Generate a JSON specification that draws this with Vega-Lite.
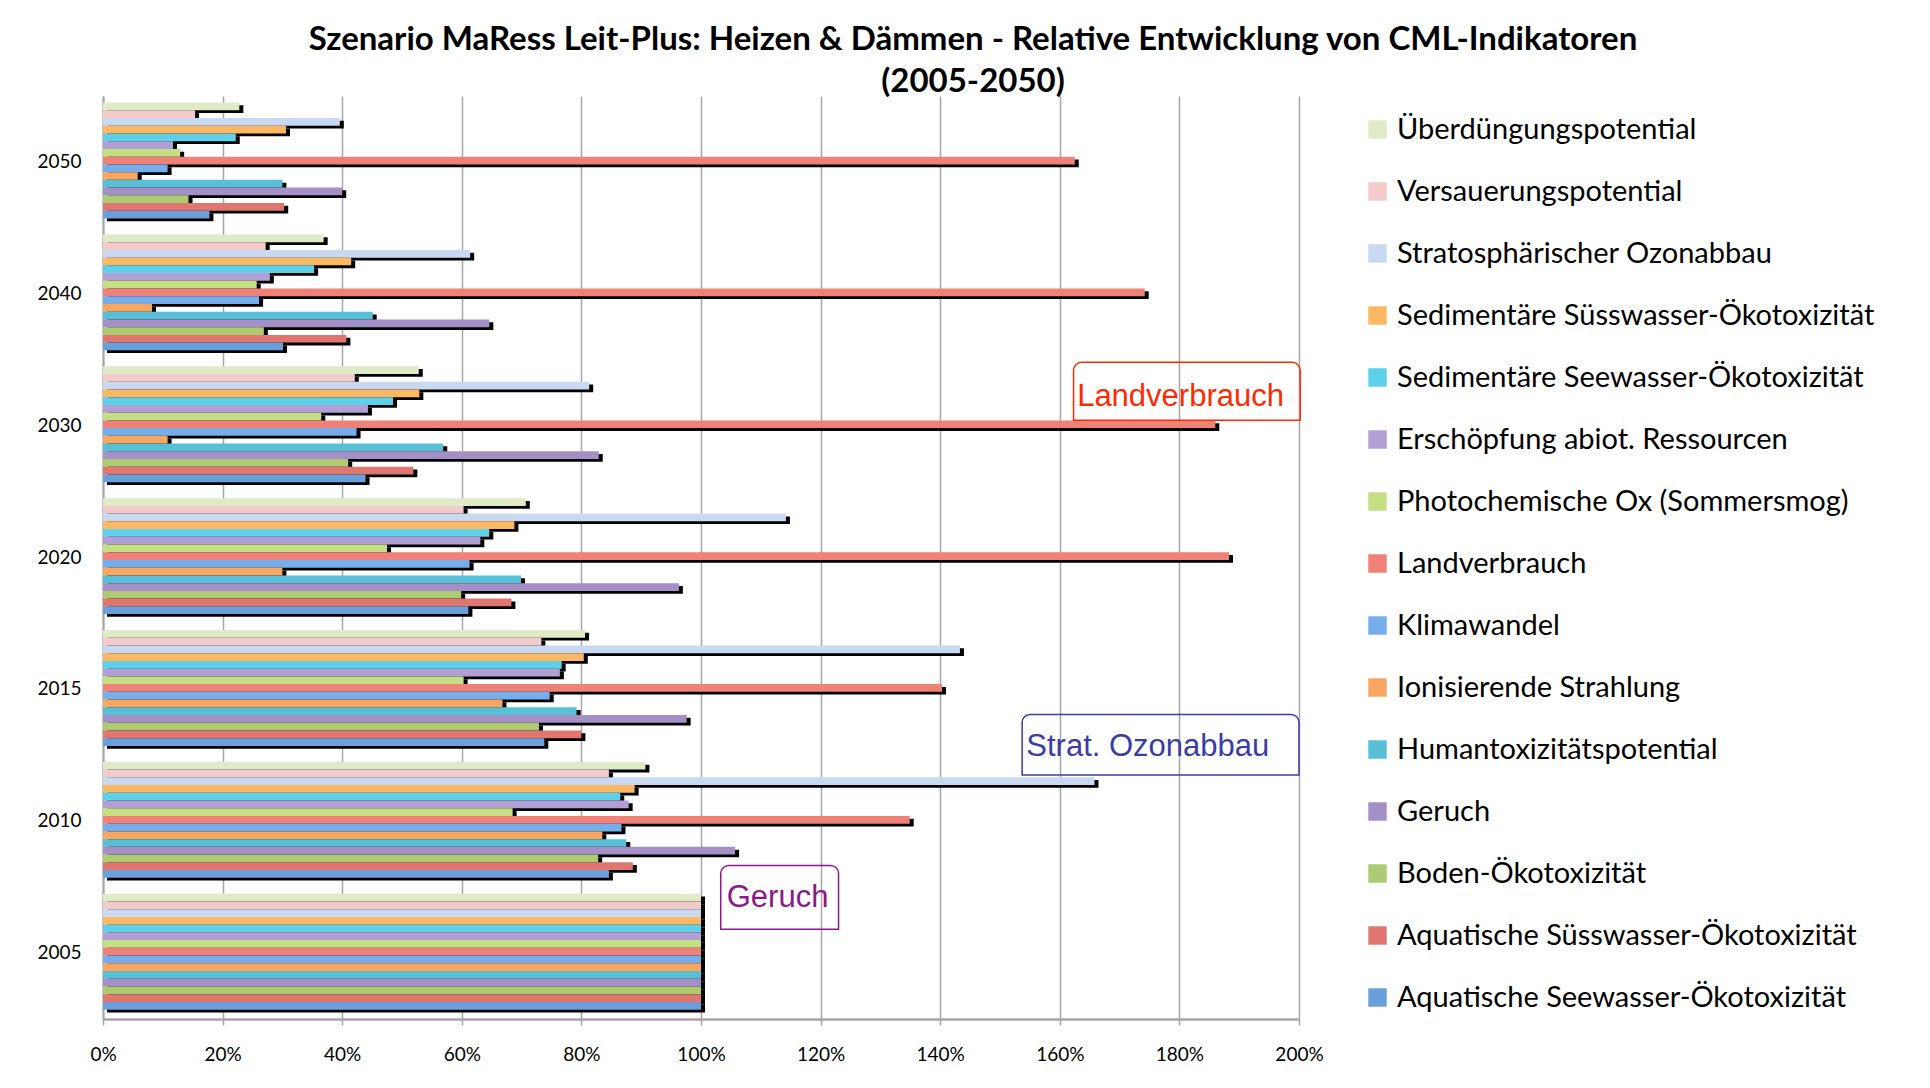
{
  "$schema": "https://vega.github.io/schema/vega-lite/v6.json",
  "width": 1196,
  "height": 923,
  "autosize": {"type": "none"},
  "padding": {"left": 103, "top": 96, "right": 631, "bottom": 69},
  "background": "white",
  "title": {
    "text": ["Szenario MaRess Leit-Plus: Heizen & Dämmen - Relative Entwicklung von CML-Indikatoren", "(2005-2050)"],
    "font": "Lato",
    "fontSize": 33,
    "fontWeight": "bold",
    "color": "black",
    "anchor": "middle",
    "frame": "group",
    "dx": 272,
    "offset": -3,
    "lineHeight": 42
  },
  "datasets": {
    "bars": [
      {"Jahr": "2050", "Indikator": "Überdüngungspotential", "Wert": 22.8},
      {"Jahr": "2050", "Indikator": "Versauerungspotential", "Wert": 15.4},
      {"Jahr": "2050", "Indikator": "Stratosphärischer Ozonabbau", "Wert": 39.6},
      {"Jahr": "2050", "Indikator": "Sedimentäre Süsswasser-Ökotoxizität", "Wert": 30.6},
      {"Jahr": "2050", "Indikator": "Sedimentäre Seewasser-Ökotoxizität", "Wert": 22.2},
      {"Jahr": "2050", "Indikator": "Erschöpfung abiot. Ressourcen", "Wert": 11.7},
      {"Jahr": "2050", "Indikator": "Photochemische Ox (Sommersmog)", "Wert": 12.9},
      {"Jahr": "2050", "Indikator": "Landverbrauch", "Wert": 162.5},
      {"Jahr": "2050", "Indikator": "Klimawandel", "Wert": 10.8},
      {"Jahr": "2050", "Indikator": "Ionisierende Strahlung", "Wert": 5.8},
      {"Jahr": "2050", "Indikator": "Humantoxizitätspotential", "Wert": 30.0},
      {"Jahr": "2050", "Indikator": "Geruch", "Wert": 40.0},
      {"Jahr": "2050", "Indikator": "Boden-Ökotoxizität", "Wert": 14.3},
      {"Jahr": "2050", "Indikator": "Aquatische Süsswasser-Ökotoxizität", "Wert": 30.3},
      {"Jahr": "2050", "Indikator": "Aquatische Seewasser-Ökotoxizität", "Wert": 17.8},

      {"Jahr": "2040", "Indikator": "Überdüngungspotential", "Wert": 36.9},
      {"Jahr": "2040", "Indikator": "Versauerungspotential", "Wert": 27.2},
      {"Jahr": "2040", "Indikator": "Stratosphärischer Ozonabbau", "Wert": 61.4},
      {"Jahr": "2040", "Indikator": "Sedimentäre Süsswasser-Ökotoxizität", "Wert": 41.5},
      {"Jahr": "2040", "Indikator": "Sedimentäre Seewasser-Ökotoxizität", "Wert": 35.3},
      {"Jahr": "2040", "Indikator": "Erschöpfung abiot. Ressourcen", "Wert": 27.9},
      {"Jahr": "2040", "Indikator": "Photochemische Ox (Sommersmog)", "Wert": 25.7},
      {"Jahr": "2040", "Indikator": "Landverbrauch", "Wert": 174.2},
      {"Jahr": "2040", "Indikator": "Klimawandel", "Wert": 26.1},
      {"Jahr": "2040", "Indikator": "Ionisierende Strahlung", "Wert": 8.2},
      {"Jahr": "2040", "Indikator": "Humantoxizitätspotential", "Wert": 45.1},
      {"Jahr": "2040", "Indikator": "Geruch", "Wert": 64.6},
      {"Jahr": "2040", "Indikator": "Boden-Ökotoxizität", "Wert": 26.9},
      {"Jahr": "2040", "Indikator": "Aquatische Süsswasser-Ökotoxizität", "Wert": 40.7},
      {"Jahr": "2040", "Indikator": "Aquatische Seewasser-Ökotoxizität", "Wert": 30.1},

      {"Jahr": "2030", "Indikator": "Überdüngungspotential", "Wert": 52.8},
      {"Jahr": "2030", "Indikator": "Versauerungspotential", "Wert": 42.1},
      {"Jahr": "2030", "Indikator": "Stratosphärischer Ozonabbau", "Wert": 81.3},
      {"Jahr": "2030", "Indikator": "Sedimentäre Süsswasser-Ökotoxizität", "Wert": 52.9},
      {"Jahr": "2030", "Indikator": "Sedimentäre Seewasser-Ökotoxizität", "Wert": 48.5},
      {"Jahr": "2030", "Indikator": "Erschöpfung abiot. Ressourcen", "Wert": 44.3},
      {"Jahr": "2030", "Indikator": "Photochemische Ox (Sommersmog)", "Wert": 36.5},
      {"Jahr": "2030", "Indikator": "Landverbrauch", "Wert": 186.0},
      {"Jahr": "2030", "Indikator": "Klimawandel", "Wert": 42.4},
      {"Jahr": "2030", "Indikator": "Ionisierende Strahlung", "Wert": 10.8},
      {"Jahr": "2030", "Indikator": "Humantoxizitätspotential", "Wert": 56.9},
      {"Jahr": "2030", "Indikator": "Geruch", "Wert": 82.9},
      {"Jahr": "2030", "Indikator": "Boden-Ökotoxizität", "Wert": 41.0},
      {"Jahr": "2030", "Indikator": "Aquatische Süsswasser-Ökotoxizität", "Wert": 51.9},
      {"Jahr": "2030", "Indikator": "Aquatische Seewasser-Ökotoxizität", "Wert": 43.9},

      {"Jahr": "2020", "Indikator": "Überdüngungspotential", "Wert": 70.7},
      {"Jahr": "2020", "Indikator": "Versauerungspotential", "Wert": 60.3},
      {"Jahr": "2020", "Indikator": "Stratosphärischer Ozonabbau", "Wert": 114.2},
      {"Jahr": "2020", "Indikator": "Sedimentäre Süsswasser-Ökotoxizität", "Wert": 68.8},
      {"Jahr": "2020", "Indikator": "Sedimentäre Seewasser-Ökotoxizität", "Wert": 64.6},
      {"Jahr": "2020", "Indikator": "Erschöpfung abiot. Ressourcen", "Wert": 63.1},
      {"Jahr": "2020", "Indikator": "Photochemische Ox (Sommersmog)", "Wert": 47.5},
      {"Jahr": "2020", "Indikator": "Landverbrauch", "Wert": 188.3},
      {"Jahr": "2020", "Indikator": "Klimawandel", "Wert": 61.3},
      {"Jahr": "2020", "Indikator": "Ionisierende Strahlung", "Wert": 30.0},
      {"Jahr": "2020", "Indikator": "Humantoxizitätspotential", "Wert": 69.9},
      {"Jahr": "2020", "Indikator": "Geruch", "Wert": 96.3},
      {"Jahr": "2020", "Indikator": "Boden-Ökotoxizität", "Wert": 59.9},
      {"Jahr": "2020", "Indikator": "Aquatische Süsswasser-Ökotoxizität", "Wert": 68.3},
      {"Jahr": "2020", "Indikator": "Aquatische Seewasser-Ökotoxizität", "Wert": 61.1},

      {"Jahr": "2015", "Indikator": "Überdüngungspotential", "Wert": 80.6},
      {"Jahr": "2015", "Indikator": "Versauerungspotential", "Wert": 73.3},
      {"Jahr": "2015", "Indikator": "Stratosphärischer Ozonabbau", "Wert": 143.3},
      {"Jahr": "2015", "Indikator": "Sedimentäre Süsswasser-Ökotoxizität", "Wert": 80.4},
      {"Jahr": "2015", "Indikator": "Sedimentäre Seewasser-Ökotoxizität", "Wert": 76.7},
      {"Jahr": "2015", "Indikator": "Erschöpfung abiot. Ressourcen", "Wert": 76.4},
      {"Jahr": "2015", "Indikator": "Photochemische Ox (Sommersmog)", "Wert": 60.3},
      {"Jahr": "2015", "Indikator": "Landverbrauch", "Wert": 140.3},
      {"Jahr": "2015", "Indikator": "Klimawandel", "Wert": 74.7},
      {"Jahr": "2015", "Indikator": "Ionisierende Strahlung", "Wert": 66.8},
      {"Jahr": "2015", "Indikator": "Humantoxizitätspotential", "Wert": 79.2},
      {"Jahr": "2015", "Indikator": "Geruch", "Wert": 97.6},
      {"Jahr": "2015", "Indikator": "Boden-Ökotoxizität", "Wert": 72.9},
      {"Jahr": "2015", "Indikator": "Aquatische Süsswasser-Ökotoxizität", "Wert": 80.0},
      {"Jahr": "2015", "Indikator": "Aquatische Seewasser-Ökotoxizität", "Wert": 73.8},

      {"Jahr": "2010", "Indikator": "Überdüngungspotential", "Wert": 90.7},
      {"Jahr": "2010", "Indikator": "Versauerungspotential", "Wert": 84.6},
      {"Jahr": "2010", "Indikator": "Stratosphärischer Ozonabbau", "Wert": 165.8},
      {"Jahr": "2010", "Indikator": "Sedimentäre Süsswasser-Ökotoxizität", "Wert": 88.9},
      {"Jahr": "2010", "Indikator": "Sedimentäre Seewasser-Ökotoxizität", "Wert": 86.5},
      {"Jahr": "2010", "Indikator": "Erschöpfung abiot. Ressourcen", "Wert": 87.9},
      {"Jahr": "2010", "Indikator": "Photochemische Ox (Sommersmog)", "Wert": 68.5},
      {"Jahr": "2010", "Indikator": "Landverbrauch", "Wert": 134.9},
      {"Jahr": "2010", "Indikator": "Klimawandel", "Wert": 86.7},
      {"Jahr": "2010", "Indikator": "Ionisierende Strahlung", "Wert": 83.5},
      {"Jahr": "2010", "Indikator": "Humantoxizitätspotential", "Wert": 87.5},
      {"Jahr": "2010", "Indikator": "Geruch", "Wert": 105.7},
      {"Jahr": "2010", "Indikator": "Boden-Ökotoxizität", "Wert": 82.8},
      {"Jahr": "2010", "Indikator": "Aquatische Süsswasser-Ökotoxizität", "Wert": 88.6},
      {"Jahr": "2010", "Indikator": "Aquatische Seewasser-Ökotoxizität", "Wert": 84.6},

      {"Jahr": "2005", "Indikator": "Überdüngungspotential", "Wert": 100},
      {"Jahr": "2005", "Indikator": "Versauerungspotential", "Wert": 100},
      {"Jahr": "2005", "Indikator": "Stratosphärischer Ozonabbau", "Wert": 100},
      {"Jahr": "2005", "Indikator": "Sedimentäre Süsswasser-Ökotoxizität", "Wert": 100},
      {"Jahr": "2005", "Indikator": "Sedimentäre Seewasser-Ökotoxizität", "Wert": 100},
      {"Jahr": "2005", "Indikator": "Erschöpfung abiot. Ressourcen", "Wert": 100},
      {"Jahr": "2005", "Indikator": "Photochemische Ox (Sommersmog)", "Wert": 100},
      {"Jahr": "2005", "Indikator": "Landverbrauch", "Wert": 100},
      {"Jahr": "2005", "Indikator": "Klimawandel", "Wert": 100},
      {"Jahr": "2005", "Indikator": "Ionisierende Strahlung", "Wert": 100},
      {"Jahr": "2005", "Indikator": "Humantoxizitätspotential", "Wert": 100},
      {"Jahr": "2005", "Indikator": "Geruch", "Wert": 100},
      {"Jahr": "2005", "Indikator": "Boden-Ökotoxizität", "Wert": 100},
      {"Jahr": "2005", "Indikator": "Aquatische Süsswasser-Ökotoxizität", "Wert": 100},
      {"Jahr": "2005", "Indikator": "Aquatische Seewasser-Ökotoxizität", "Wert": 100}
    ],
    "notes": [
      {"label": "Landverbrauch", "x0": 162.3, "x1": 200.2, "y0": 4.54, "y1": 4.98, "tx": 162.9, "ty": 4.72, "farbe": "#ff2a00"},
      {"label": "Strat. Ozonabbau", "x0": 153.7, "x1": 200.0, "y0": 1.85, "y1": 2.31, "tx": 154.4, "ty": 2.06, "farbe": "#3c3ca8"},
      {"label": "Geruch", "x0": 103.3, "x1": 123.0, "y0": 0.68, "y1": 1.165, "tx": 104.3, "ty": 0.92, "farbe": "#8a1a8a"}
    ]
  },
  "layer": [
    {
      "data": {"name": "bars"},
      "encoding": {
        "y": {
          "field": "Jahr", "type": "nominal",
          "sort": ["2050", "2040", "2030", "2020", "2015", "2010", "2005"],
          "scale": {"paddingInner": 0.1, "paddingOuter": 0.05},
          "axis": {
            "title": null, "ticks": false, "labelFont": "Lato", "labelFontSize": 19,
            "labelColor": "black", "labelPadding": 22, "domainColor": "#a6a6a6", "domainWidth": 2
          }
        },
        "x": {
          "field": "Wert", "type": "quantitative",
          "scale": {"domain": [0, 200], "nice": false},
          "axis": {
            "title": null, "values": [0, 20, 40, 60, 80, 100, 120, 140, 160, 180, 200],
            "labelExpr": "datum.value + '%'", "labelFont": "Lato", "labelFontSize": 19, "labelColor": "black",
            "labelFlush": false, "labelOverlap": false,
            "labelPadding": 20, "grid": true, "gridColor": "#a6a6a6", "gridWidth": 1.5,
            "domainColor": "#a6a6a6", "domainWidth": 2.5, "tickColor": "#a6a6a6", "tickSize": 6, "tickWidth": 1.5
          }
        }
      },
      "layer": [
        {
          "mark": {"type": "bar", "color": "black", "xOffset": 4},
          "encoding": {
            "yOffset": {
              "field": "Indikator", "type": "nominal",
              "sort": ["Überdüngungspotential", "Versauerungspotential", "Stratosphärischer Ozonabbau", "Sedimentäre Süsswasser-Ökotoxizität", "Sedimentäre Seewasser-Ökotoxizität", "Erschöpfung abiot. Ressourcen", "Photochemische Ox (Sommersmog)", "Landverbrauch", "Klimawandel", "Ionisierende Strahlung", "Humantoxizitätspotential", "Geruch", "Boden-Ökotoxizität", "Aquatische Süsswasser-Ökotoxizität", "Aquatische Seewasser-Ökotoxizität"],
              "scale": {"paddingInner": 0, "paddingOuter": 0.18, "align": 1}
            }
          }
        },
        {
          "mark": {"type": "bar"},
          "encoding": {
            "yOffset": {
              "field": "Indikator", "type": "nominal",
              "sort": ["Überdüngungspotential", "Versauerungspotential", "Stratosphärischer Ozonabbau", "Sedimentäre Süsswasser-Ökotoxizität", "Sedimentäre Seewasser-Ökotoxizität", "Erschöpfung abiot. Ressourcen", "Photochemische Ox (Sommersmog)", "Landverbrauch", "Klimawandel", "Ionisierende Strahlung", "Humantoxizitätspotential", "Geruch", "Boden-Ökotoxizität", "Aquatische Süsswasser-Ökotoxizität", "Aquatische Seewasser-Ökotoxizität"],
              "scale": {"paddingInner": 0, "paddingOuter": 0.18, "align": 0}
            },
            "color": {
              "field": "Indikator", "type": "nominal",
              "scale": {
                "domain": ["Überdüngungspotential", "Versauerungspotential", "Stratosphärischer Ozonabbau", "Sedimentäre Süsswasser-Ökotoxizität", "Sedimentäre Seewasser-Ökotoxizität", "Erschöpfung abiot. Ressourcen", "Photochemische Ox (Sommersmog)", "Landverbrauch", "Klimawandel", "Ionisierende Strahlung", "Humantoxizitätspotential", "Geruch", "Boden-Ökotoxizität", "Aquatische Süsswasser-Ökotoxizität", "Aquatische Seewasser-Ökotoxizität"],
                "range": ["#dfeac7", "#f3cbcb", "#c9d9f2", "#fdb863", "#5fd0ea", "#b29fd6", "#c5df85", "#f08178", "#75aeea", "#f8a660", "#58c0d6", "#a48fc6", "#aecb74", "#e07670", "#6b9fd9"]
              },
              "legend": {
                "title": null, "orient": "none", "legendX": 1260, "legendY": 19, "padding": 0,
                "labelFont": "Lato", "labelFontSize": 29, "labelColor": "black", "labelOffset": 5,
                "symbolType": "square", "symbolSize": 340, "symbolStrokeWidth": 0, "rowPadding": 32,
                "labelLimit": 600
              }
            }
          }
        }
      ],
      "resolve": {"scale": {"yOffset": "independent"}}
    },
    {
      "data": {"name": "notes"},
      "layer": [
        {
          "mark": {"type": "rect", "fill": null, "strokeWidth": 1.5, "cornerRadiusTopLeft": 8, "cornerRadiusTopRight": 8},
          "encoding": {
            "x": {"field": "x0", "type": "quantitative"},
            "x2": {"field": "x1"},
            "y": {"field": "y0", "type": "quantitative", "scale": {"domain": [0, 7], "nice": false}, "axis": null},
            "y2": {"field": "y1"},
            "stroke": {"field": "farbe", "type": "nominal", "scale": null}
          }
        },
        {
          "mark": {"type": "text", "font": "Liberation Sans", "fontSize": 31, "align": "left", "baseline": "middle"},
          "encoding": {
            "x": {"field": "tx", "type": "quantitative"},
            "y": {"field": "ty", "type": "quantitative", "scale": {"domain": [0, 7], "nice": false}, "axis": null},
            "text": {"field": "label"},
            "color": {"field": "farbe", "type": "nominal", "scale": null}
          }
        }
      ]
    }
  ],
  "resolve": {"scale": {"y": "independent", "color": "independent", "stroke": "independent"}},
  "config": {"view": {"stroke": null}}
}
